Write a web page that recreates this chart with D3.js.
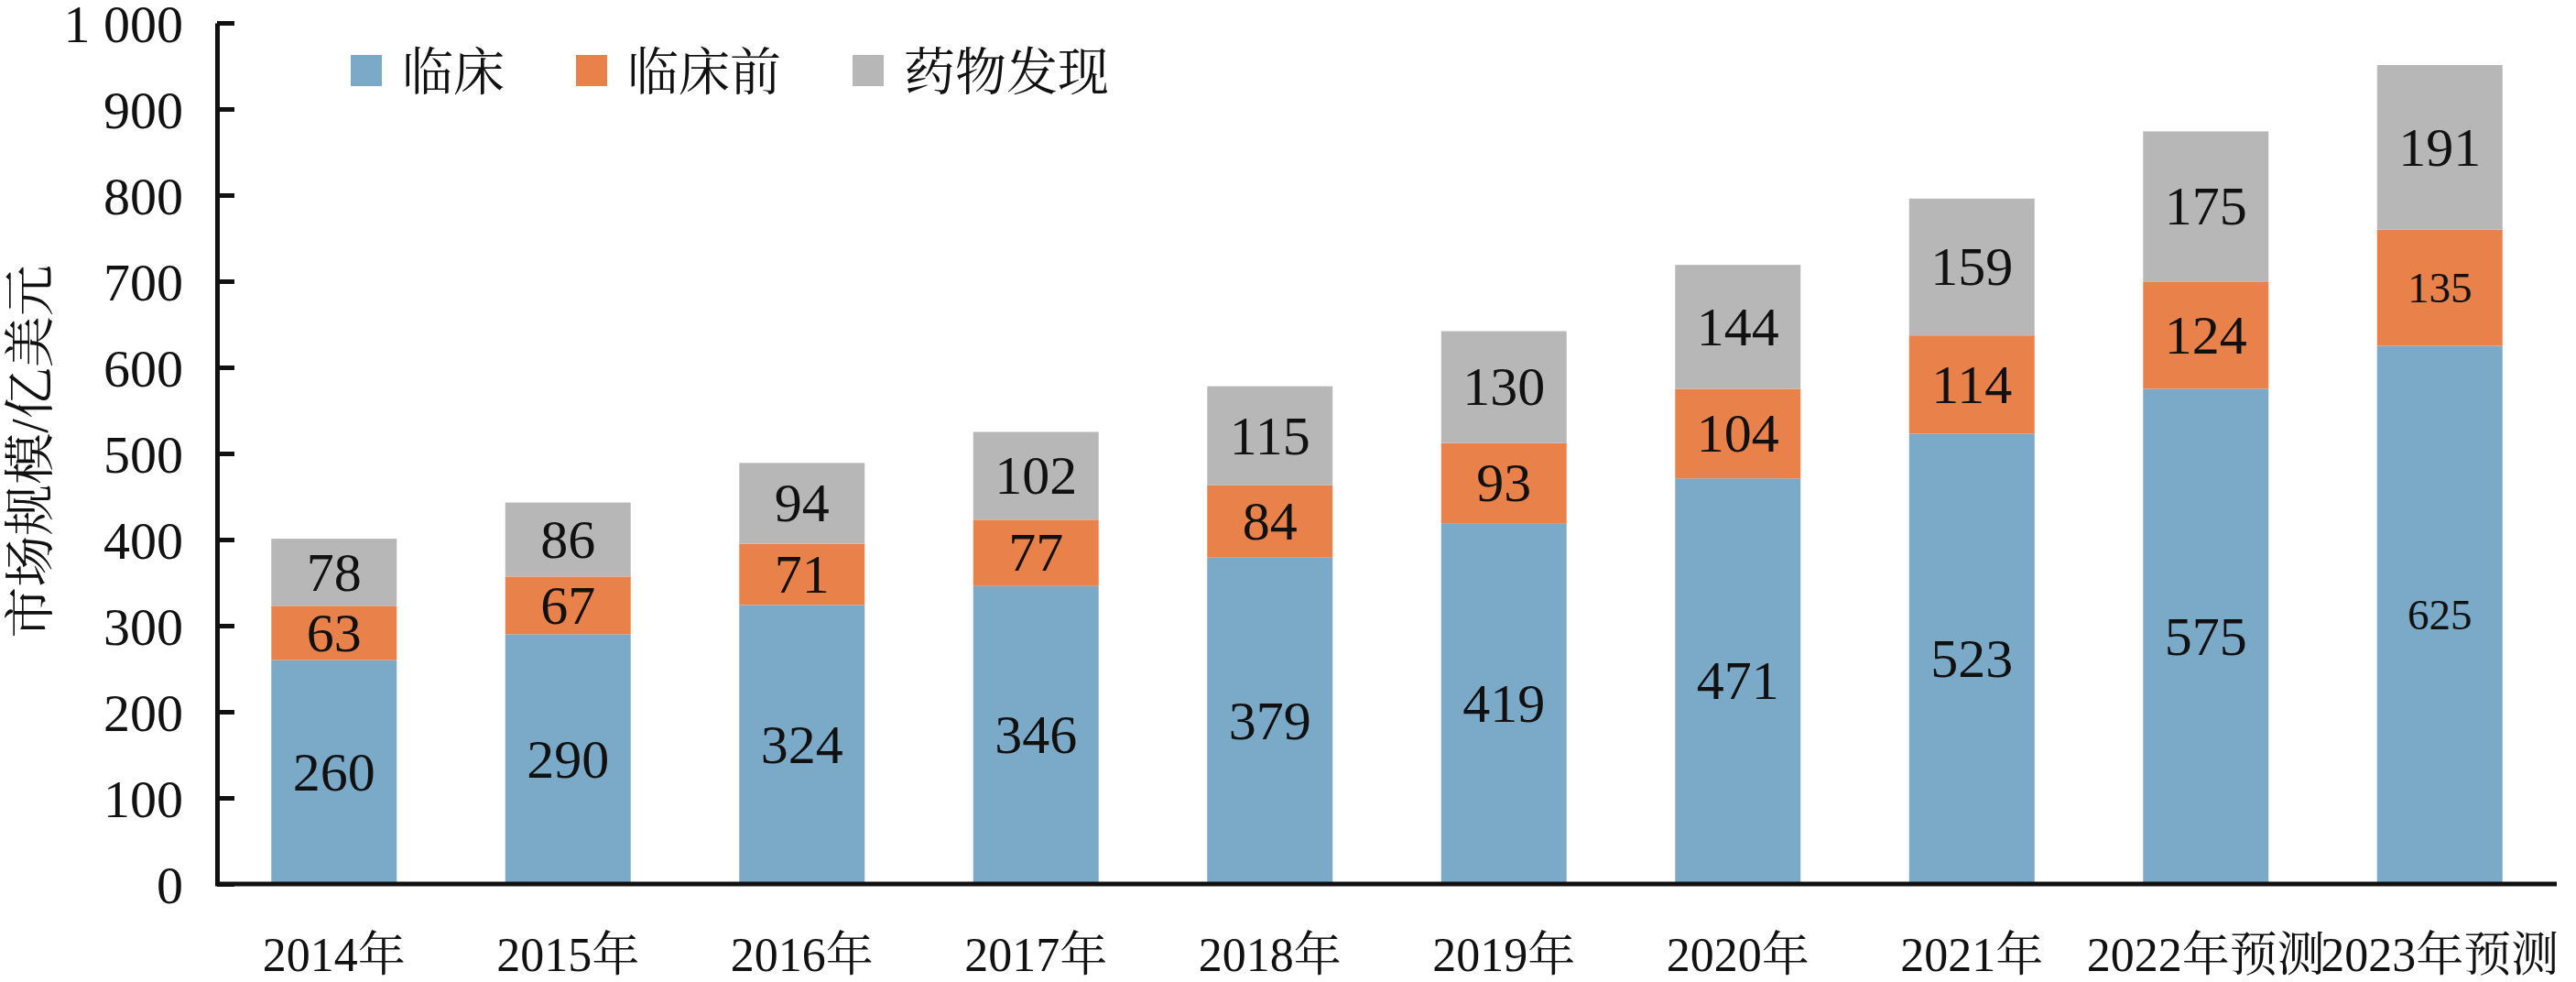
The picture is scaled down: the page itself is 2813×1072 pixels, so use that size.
<!DOCTYPE html>
<html>
<head>
<meta charset="utf-8">
<script src="https://cdn.jsdelivr.net/npm/d3@7"></script>
<style>
  html, body { margin: 0; padding: 0; background: #fff; }
  svg { display: block; }
</style>
</head>
<body>
<svg id="chart" width="2813" height="1072"></svg>
<script>
const categories = ["2014年","2015年","2016年","2017年","2018年","2019年","2020年","2021年","2022年预测","2023年预测"];
const clinical    = [260, 290, 324, 346, 379, 419, 471, 523, 575, 625];
const preclinical = [63, 67, 71, 77, 84, 93, 104, 114, 124, 135];
const discovery   = [78, 86, 94, 102, 115, 130, 144, 159, 175, 191];
const seriesNames = ["临床", "临床前", "药物发现"];
const seriesKeys  = ["clinical", "preclinical", "discovery"];
const yTicks      = [0, 100, 200, 300, 400, 500, 600, 700, 800, 900, 1000];
const yTickLabels = ["0", "100", "200", "300", "400", "500", "600", "700", "800", "900", "1 000"];
const yTitle = "市场规模/亿美元";
const colors = ["#7BAAC8", "#E8814A", "#B7B7B7"];
// labels drawn in a smaller size in the original
const smallLabels = [{ s: "preclinical", i: 9 }, { s: "clinical", i: 9 }];

const FONT = "'Liberation Serif', 'Noto Serif CJK SC', serif";

const rows = categories.map((c, i) => ({
  cat: c, clinical: clinical[i], preclinical: preclinical[i], discovery: discovery[i]
}));

const svg = d3.select("#chart");
const x = d3.scaleBand().domain(categories).range([237, 2792]).paddingInner(0.464).paddingOuter(0.232);
const y = d3.scaleLinear().domain([0, 1000]).range([965, 25]);
const color = d3.scaleOrdinal().domain(seriesKeys).range(colors);

const stacked = d3.stack().keys(seriesKeys)(rows);

const layers = svg.append("g").selectAll("g").data(stacked).join("g")
  .attr("fill", d => color(d.key));
layers.selectAll("rect").data(d => d).join("rect")
  .attr("x", d => x(d.data.cat))
  .attr("width", x.bandwidth())
  .attr("y", d => y(d[1]))
  .attr("height", d => y(d[0]) - y(d[1]));

// value labels
const labelG = svg.append("g");
stacked.forEach(layer => {
  layer.forEach((d, i) => {
    const small = smallLabels.some(s => s.s === layer.key && s.i === i);
    labelG.append("text")
      .attr("x", x(d.data.cat) + x.bandwidth() / 2)
      .attr("y", (y(d[0]) + y(d[1])) / 2)
      .attr("dy", "0.33em")
      .attr("text-anchor", "middle")
      .attr("fill", "#111")
      .style("font-family", FONT)
      .style("font-size", small ? "47px" : "60px")
      .text(d.data[layer.key]);
  });
});

// Y axis
const yAxis = d3.axisLeft(y).tickValues(yTicks)
  .tickFormat((d, i) => yTickLabels[i])
  .tickSizeInner(-19).tickSizeOuter(0).tickPadding(37);
const yg = svg.append("g").attr("transform", "translate(237,0)").call(yAxis);
yg.attr("font-family", null).attr("font-size", null);
yg.select(".domain").attr("stroke", "#111").attr("stroke-width", 5);
yg.selectAll(".tick line").attr("stroke", "#111").attr("stroke-width", 5);
yg.selectAll(".tick text").style("font-size", "58px").attr("fill", "#111")
  .attr("dy", "0.36em")
  .style("font-family", FONT);

// X axis
const xAxis = d3.axisBottom(x).tickSize(0).tickPadding(58);
const xg = svg.append("g").attr("transform", "translate(0,965)").call(xAxis);
xg.attr("font-family", null).attr("font-size", null);
xg.select(".domain").remove();
xg.selectAll(".tick text").style("font-size", "52px").attr("fill", "#111")
  .style("font-family", FONT);
svg.append("line")
  .attr("x1", 235).attr("x2", x.range()[1])
  .attr("y1", y(0)).attr("y2", y(0))
  .attr("stroke", "#111").attr("stroke-width", 5);

// Y title
svg.append("text")
  .attr("transform", "translate(32,493) rotate(-90)")
  .attr("text-anchor", "middle")
  .attr("dy", "0.35em")
  .attr("fill", "#111")
  .style("font-family", FONT)
  .style("font-size", "56px")
  .text(yTitle);

// Legend
const legend = svg.append("g");
let lx = 383;
seriesNames.forEach((name, i) => {
  legend.append("rect")
    .attr("x", lx).attr("y", 60).attr("width", 34).attr("height", 34)
    .attr("fill", colors[i]);
  const t = legend.append("text")
    .attr("x", lx + 56).attr("y", 78).attr("dy", "0.36em")
    .attr("fill", "#111")
    .style("font-family", FONT)
    .style("font-size", "56px")
    .text(name);
  lx += 56 + t.node().getComputedTextLength() + 78;
});
</script>
</body>
</html>
